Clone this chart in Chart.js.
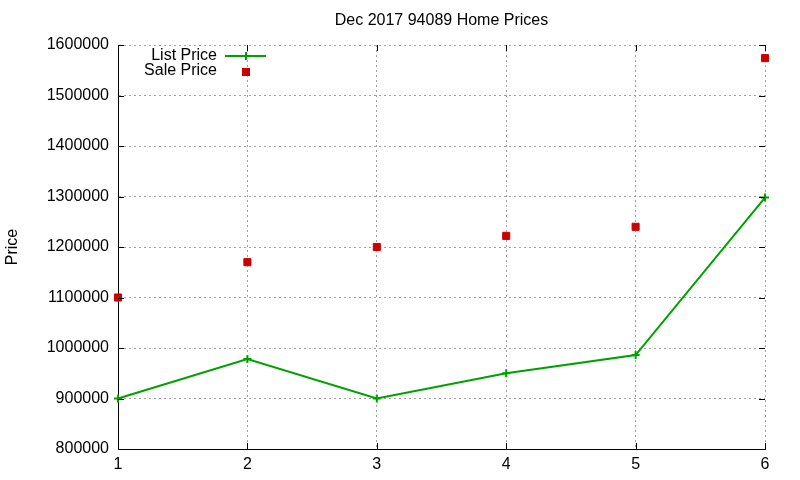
<!DOCTYPE html>
<html>
<head>
<meta charset="utf-8">
<script src="https://cdn.jsdelivr.net/npm/chart.js@4/dist/chart.umd.min.js"></script>
<style>
  html, body { margin: 0; padding: 0; background: #fff; }
  #wrap { width: 800px; height: 480px; }
</style>
</head>
<body>
<div id="wrap"><canvas id="chart" width="800" height="480"></canvas></div>
<script>
// ====================== DATA ======================
const chartTitle = 'Dec 2017 94089 Home Prices';
const months = [1, 2, 3, 4, 5, 6];
const listPrices = [900000, 978000, 900000, 950000, 986000, 1298000];
const salePrices = [1100000, 1170000, 1200000, 1222000, 1240000, 1574000];
const yTicks = [800000, 900000, 1000000, 1100000, 1200000, 1300000, 1400000, 1500000, 1600000];

const FONT = "'Liberation Sans', Arial, sans-serif";
const GREEN = '#00a000';
const RED = '#cc0000';
const GRID = '#a0a0a0';

// gnuplot style: title over the plot, inward tick marks on all four sides, key in the top-left
const gnuplotBits = {
  id: 'gnuplotBits',
  afterDraw(chart) {
    const ctx = chart.ctx;
    const a = chart.chartArea;
    const xs = chart.scales.x, ys = chart.scales.y;
    ctx.save();

    // title centred on the plot area
    ctx.font = '16px ' + FONT;
    ctx.fillStyle = '#000';
    ctx.textAlign = 'center';
    ctx.textBaseline = 'middle';
    ctx.fillText(chartTitle, (a.left + a.right) / 2, 20.5);

    ctx.strokeStyle = '#000';
    ctx.lineWidth = 1;
    ctx.beginPath();
    yTicks.forEach(v => {
      const y = Math.round(ys.getPixelForValue(v)) + 0.5;
      ctx.moveTo(a.left, y); ctx.lineTo(a.left + 6, y);
      ctx.moveTo(a.right, y); ctx.lineTo(a.right - 6, y);
    });
    months.forEach(v => {
      const x = Math.round(xs.getPixelForValue(v)) + 0.5;
      ctx.moveTo(x, a.bottom); ctx.lineTo(x, a.bottom - 6);
      ctx.moveTo(x, a.top); ctx.lineTo(x, a.top + 6);
    });
    ctx.stroke();

    // key
    ctx.textAlign = 'right';
    const ds = chart.data.datasets;
    ctx.fillText(ds[0].label, 217, 56);
    ctx.fillText(ds[1].label, 217, 71);
    ctx.strokeStyle = GREEN;
    ctx.lineWidth = 2;
    ctx.beginPath();
    ctx.moveTo(225, 56); ctx.lineTo(266, 56);
    ctx.moveTo(246, 52); ctx.lineTo(246, 60);
    ctx.stroke();
    ctx.fillStyle = RED;
    ctx.fillRect(242, 68, 8, 8);
    ctx.restore();
  }
};

new Chart(document.getElementById('chart'), {
  type: 'line',
  data: {
    datasets: [
      {
        label: 'List Price',
        data: months.map((m, i) => ({ x: m, y: listPrices[i] })),
        borderColor: GREEN,
        backgroundColor: GREEN,
        borderWidth: 2,
        pointStyle: 'cross',
        pointRadius: 4,
        pointBorderWidth: 2,
        tension: 0,
        clip: false
      },
      {
        label: 'Sale Price',
        data: months.map((m, i) => ({ x: m, y: salePrices[i] })),
        showLine: false,
        borderColor: RED,
        backgroundColor: RED,
        pointStyle: 'rect',
        pointRadius: 5,
        pointBorderWidth: 1,
        clip: false
      }
    ]
  },
  options: {
    responsive: false,
    animation: false,
    layout: { padding: { left: 0, right: 35, top: 45, bottom: 0 } },
    plugins: {
      legend: { display: false },
      tooltip: { enabled: false },
      title: { display: false }
    },
    scales: {
      x: {
        type: 'linear',
        min: 1,
        max: 6,
        afterBuildTicks: s => { s.ticks = months.map(v => ({ value: v })); },
        afterFit: s => { s.height = 31; },
        ticks: { color: '#000', font: { family: FONT, size: 16 }, padding: 6, callback: v => String(v) },
        grid: { color: GRID, drawTicks: false },
        border: { display: true, color: '#000', width: 1, dash: [2, 3] }
      },
      y: {
        min: 800000,
        max: 1600000,
        afterBuildTicks: s => { s.ticks = yTicks.map(v => ({ value: v })); },
        afterFit: s => { s.width = 118; },
        ticks: { color: '#000', font: { family: FONT, size: 16 }, padding: 9, callback: v => String(v) },
        grid: { color: GRID, drawTicks: false },
        border: { display: true, color: '#000', width: 1, dash: [2, 3] },
        title: {
          display: true,
          text: 'Price',
          color: '#000',
          font: { family: FONT, size: 16 },
          padding: { top: 3, bottom: 0 }
        }
      }
    }
  },
  plugins: [gnuplotBits]
});
</script>
</body>
</html>
